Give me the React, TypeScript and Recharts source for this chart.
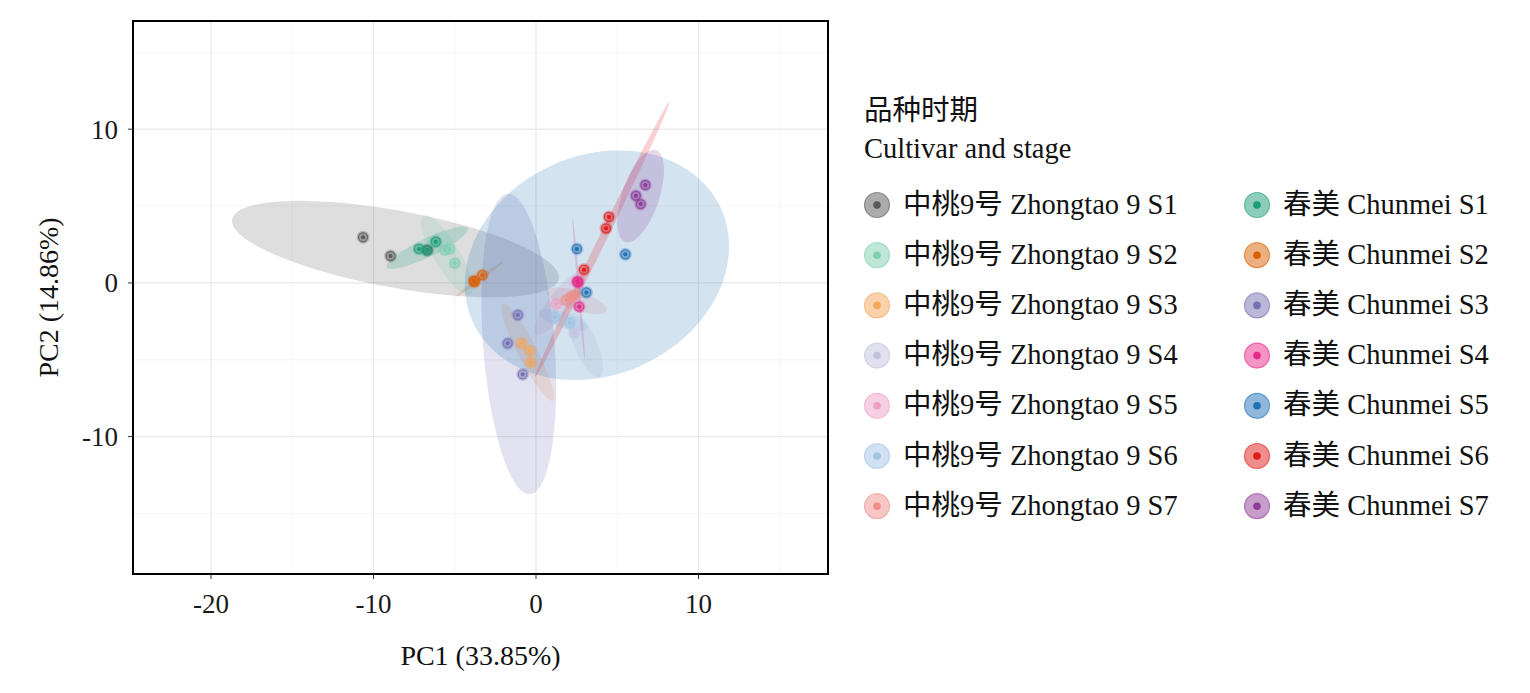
import {
  ScatterChart,
  Scatter,
  XAxis,
  YAxis,
  CartesianGrid,
  ReferenceArea,
  Legend,
} from "recharts";

const FONT = '"Liberation Serif", "Noto Sans CJK SC", serif';

const stages = ["S1", "S2", "S3", "S4", "S5", "S6", "S7"];
const zhongtaoName = "中桃9号 Zhongtao 9";
const chunmeiName = "春美 Chunmei";

const zhongtaoColors = ["#5a5a5a", "#80cfb2", "#f4a65a", "#c4c1de", "#ee9fc5", "#9fc4e6", "#ee8f8a"];
const chunmeiColors = ["#1b9e77", "#d95f02", "#7570b3", "#e7298a", "#2171b5", "#e31a1c", "#8e3c97"];

// PCA scores, one list per stage
const zhongtaoPC1 = [
  [-10.64, -8.95, -6.68],
  [-5.62, -5.31, -5.0],
  [-0.9, -0.39, -0.34],
  [2.35],
  [1.25],
  [1.18, 2.07],
  [1.87, 2.18, 2.4],
];
const zhongtaoPC2 = [
  [2.97, 1.75, 2.14],
  [2.14, 2.21, 1.28],
  [-3.93, -4.41, -5.17],
  [-3.26],
  [-1.37],
  [-2.22, -2.59],
  [-1.11, -0.9, -0.8],
];
const chunmeiPC1 = [
  [-7.2, -6.72, -6.17],
  [-3.83, -3.3, -3.77],
  [-1.11, -1.74, -0.82],
  [2.58, 2.55, 2.66],
  [2.52, 5.5, 3.1],
  [4.49, 4.31, 2.95],
  [6.73, 6.15, 6.44],
];
const chunmeiPC2 = [
  [2.21, 2.11, 2.68],
  [0.14, 0.51, 0.06],
  [-2.09, -3.93, -5.95],
  [0.03, 0.1, -1.55],
  [2.21, 1.86, -0.62],
  [4.29, 3.55, 0.86],
  [6.37, 5.67, 5.13],
];

// confidence ellipses: Zhongtao S1..S7 then Chunmei S1..S7
const ellipseCx = [-8.65, -5.49, -0.51, 3.06, 1.46, 1.66, 2.5, -6.69, -3.51, -1.06, 2.63, 3.75, 4.08, 6.44];
const ellipseCy = [2.2, 1.81, -4.5, -4.03, -1.31, -2.41, -1.17, 2.29, 0.22, -3.97, -0.4, 1.15, 2.84, 5.65];
const ellipseMajor = [10.24, 2.93, 3.51, 2.24, 2.5, 1.6, 1.96, 2.8, 1.85, 9.8, 4.63, 8.5, 9.86, 3.13];
const ellipseMinor = [2.5, 0.8, 0.6, 0.7, 0.7, 0.5, 0.62, 0.6, 0.12, 2.2, 0.08, 7.05, 0.25, 1.15];
const ellipseAngle = [-11, -61, -64, -68, 54, -20, -19, 27, 38, -86, 94.6, 31.4, 65.2, 72.8];

const xDomain = [-24.8, 17.97];
const yDomain = [-18.94, 17.04];
const xTicks = [-20, -10, 0, 10];
const yTicks = [-10, 0, 10];
const xMajor = [-20, -10, 0, 10];
const xMinor = [-15, -5, 5, 15];
const yMajor = [-10, 0, 10];
const yMinor = [-15, -5, 5, 15];

const groups = [
  ...stages.map((s, i) => ({
    name: `${zhongtaoName} ${s}`,
    color: zhongtaoColors[i],
    pc1: zhongtaoPC1[i],
    pc2: zhongtaoPC2[i],
  })),
  ...stages.map((s, i) => ({
    name: `${chunmeiName} ${s}`,
    color: chunmeiColors[i],
    pc1: chunmeiPC1[i],
    pc2: chunmeiPC2[i],
  })),
];

function ellipsePoints(i: number) {
  const n = 90;
  const t0 = (ellipseAngle[i] * Math.PI) / 180;
  const pts = [];
  for (let k = 0; k < n; k++) {
    const t = (2 * Math.PI * k) / n;
    const a = ellipseMajor[i] * Math.cos(t);
    const b = ellipseMinor[i] * Math.sin(t);
    pts.push({
      x: ellipseCx[i] + a * Math.cos(t0) - b * Math.sin(t0),
      y: ellipseCy[i] + a * Math.sin(t0) + b * Math.cos(t0),
    });
  }
  return pts;
}

const hidden = () => <g />;

function ellipseFill(color: string) {
  return (props: any) => {
    const pts = props.points || [];
    const d =
      pts.map((p: any, k: number) => `${k ? "L" : "M"}${p.x},${p.y}`).join(" ") + " Z";
    return <path d={d} fill={color} fillOpacity={0.2} stroke="none" />;
  };
}

function dot(color: string) {
  return (p: any) => (
    <g>
      <circle cx={p.cx} cy={p.cy} r={6.5} fill={color} fillOpacity={0.3} />
      <circle
        cx={p.cx}
        cy={p.cy}
        r={4.5}
        fill={color}
        fillOpacity={0.3}
        stroke={color}
        strokeOpacity={0.75}
        strokeWidth={1.3}
      />
      <circle cx={p.cx} cy={p.cy} r={2} fill={color} />
    </g>
  );
}

const renderLegend = () => (
  <svg width={680} height={470} style={{ display: "block", fontFamily: FONT }}>
    <text x={14} y={40} fontSize={28.5} fill="#111">品种时期</text>
    <text x={14} y={78} fontSize={28.5} fill="#111">Cultivar and stage</text>
    {groups.map((g, i) => {
      const col = i < 7 ? 0 : 1;
      const row = i % 7;
      const cy = 125 + row * 50.2;
      const cx = col ? 407 : 27;
      return (
        <g key={g.name}>
          <circle
            cx={cx}
            cy={cy}
            r={12.5}
            fill={g.color}
            fillOpacity={0.5}
            stroke={g.color}
            strokeOpacity={0.6}
            strokeWidth={1.2}
          />
          <circle cx={cx} cy={cy} r={3.8} fill={g.color} />
          <text x={cx + 26} y={cy + 8.5} fontSize={28.5} fill="#111">
            {g.name}
          </text>
        </g>
      );
    })}
  </svg>
);

const yTitle = (props: any) => {
  const vb = props.viewBox || { x: 0, y: 21, height: 553 };
  const cx = vb.x + 48;
  const cy = vb.y + vb.height / 2;
  return (
    <text
      x={cx}
      y={cy}
      transform={`rotate(-90 ${cx} ${cy})`}
      textAnchor="middle"
      dominantBaseline="central"
      fontSize={28}
      fontFamily={FONT}
      fill="#111"
    >
      PC2 (14.86%)
    </text>
  );
};

export default function App() {
  return (
    <div style={{ position: "absolute", left: 0, top: 0, width: 1530, height: 693, background: "#fff", fontFamily: FONT }}>
      <ScatterChart width={1530} height={693} margin={{ top: 21, right: 702, bottom: 0, left: 0 }}>
        <CartesianGrid horizontalValues={yMinor} verticalValues={xMinor} stroke="#f2f2f2" strokeWidth={0.8} />
        <CartesianGrid horizontalValues={yMajor} verticalValues={xMajor} stroke="#e9e9e9" strokeWidth={1.2} />
        <XAxis
          type="number"
          dataKey="x"
          domain={xDomain}
          ticks={xTicks}
          allowDataOverflow
          height={119}
          axisLine={false}
          tickLine={{ stroke: "#333" }}
          tickSize={5}
          tickMargin={15}
          tick={{ fontSize: 27, fill: "#1a1a1a", fontFamily: FONT }}
          label={{ value: "PC1 (33.85%)", position: "insideBottom", offset: 28, fontSize: 28, fill: "#111", fontFamily: FONT }}
        />
        <YAxis
          type="number"
          dataKey="y"
          domain={yDomain}
          ticks={yTicks}
          allowDataOverflow
          width={133}
          axisLine={false}
          tickLine={{ stroke: "#333" }}
          tickSize={5}
          tickMargin={10}
          tick={{ fontSize: 27, fill: "#1a1a1a", fontFamily: FONT }}
          label={{ content: yTitle }}
        />
        {groups.map((g, i) => (
          <Scatter
            key={`e-${g.name}`}
            data={ellipsePoints(i)}
            shape={hidden}
            line={ellipseFill(g.color)}
            legendType="none"
            isAnimationActive={false}
          />
        ))}
        {groups.map((g) => (
          <Scatter
            key={`p-${g.name}`}
            name={g.name}
            data={g.pc1.map((x, k) => ({ x, y: g.pc2[k] }))}
            shape={dot(g.color)}
            isAnimationActive={false}
          />
        ))}
        <ReferenceArea
          x1={xDomain[0]}
          x2={xDomain[1]}
          y1={yDomain[0]}
          y2={yDomain[1]}
          fill="none"
          stroke="#000"
          strokeWidth={2}
          ifOverflow="visible"
        />
        <Legend
          layout="horizontal"
          align="center"
          verticalAlign="middle"
          content={renderLegend}
          wrapperStyle={{ left: 850, top: 80, width: 680, height: 470 }}
        />
      </ScatterChart>
    </div>
  );
}
